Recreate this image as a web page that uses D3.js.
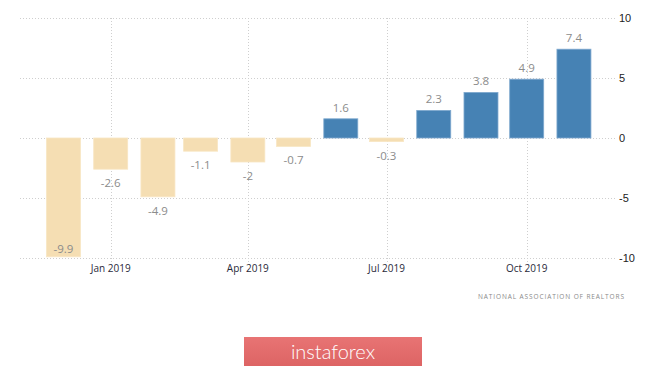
<!DOCTYPE html>
<html><head><meta charset="utf-8">
<script src="https://cdn.jsdelivr.net/npm/d3@7"></script>
<style>
body{margin:0;background:#fff;}
svg{display:block;font-family:"Open Sans",sans-serif;}
</style></head>
<body><svg id="c" width="665" height="368"></svg>
<script>
const months = ["2018-12","2019-01","2019-02","2019-03","2019-04","2019-05","2019-06","2019-07","2019-08","2019-09","2019-10","2019-11"];
const values = [-9.9,-2.6,-4.9,-1.1,-2,-0.7,1.6,-0.3,2.3,3.8,4.9,7.4];
const yTicks = [-10,-5,0,5,10];
const xTickDates = ["2019-01","2019-04","2019-07","2019-10"];
const xTickLabels = ["Jan 2019","Apr 2019","Jul 2019","Oct 2019"];
const sourceText = "NATIONAL ASSOCIATION OF REALTORS";
const logoText = "instaforex";

(function(){
const parse = d3.timeParse("%Y-%m");
const svg = d3.select("#c");
const pL = 20, pR = 616, pT = 18, pB = 258;
const x = d3.scaleTime().domain([parse("2019-01"), parse("2019-10")]).range([110.7, 526.7]);
const y = d3.scaleLinear().domain([-10, 10]).range([pB, pT]);
const barW = 34;

// horizontal grid
svg.append("g").selectAll("line").data(yTicks).join("line")
  .attr("x1", pL).attr("x2", pR)
  .attr("y1", d => y(d)+0.5).attr("y2", d => y(d)+0.5)
  .attr("stroke", "#cfcfcf").attr("stroke-dasharray", "1,2");
// vertical grid
svg.append("g").selectAll("line").data(xTickDates).join("line")
  .attr("x1", d => Math.round(x(parse(d)))+0.5).attr("x2", d => Math.round(x(parse(d)))+0.5)
  .attr("y1", pT).attr("y2", pB+4)
  .attr("stroke", "#cfcfcf").attr("stroke-dasharray", "1,2");

// bars
svg.append("g").selectAll("rect").data(values).join("rect")
  .attr("x", (d,i) => x(parse(months[i])) - barW/2)
  .attr("width", barW)
  .attr("y", d => Math.min(y(d), y(0)))
  .attr("height", d => Math.abs(y(d) - y(0)))
  .attr("fill", d => d >= 0 ? "#4682b4" : "#f5deb3")
  .attr("stroke", d => d >= 0 ? "#7fa9cf" : "#f8e6c4")
  .attr("stroke-width", 0.8);

// value labels
svg.append("g").selectAll("text").data(values).join("text")
  .attr("x", (d,i) => x(parse(months[i])))
  .attr("y", d => d >= 0 ? y(d) - 7 : Math.min(y(d) + 18, pB - 5))
  .attr("text-anchor", "middle")
  .attr("font-size", 11.5)
  .attr("fill", "#8c8c8c")
  .text(d => d);

// y tick labels
svg.append("g").selectAll("text").data(yTicks).join("text")
  .attr("x", 619).attr("y", d => y(d) + 4)
  .attr("font-size", 11).attr("fill", "#222")
  .attr("font-family", "Liberation Sans, Arial, sans-serif")
  .text(d => d);

// x tick labels
svg.append("g").selectAll("text").data(xTickDates).join("text")
  .attr("x", d => x(parse(d))).attr("y", 272)
  .attr("text-anchor", "middle").attr("font-size", 10)
  .attr("fill", "#2a2a3a")
  .text((d,i) => xTickLabels[i]);

// source
svg.append("text").attr("x", 478).attr("y", 299)
  .attr("font-size", 6.5).attr("fill", "#8a8a8a")
  .attr("textLength", 146).attr("lengthAdjust", "spacing")
  .text(sourceText);

// logo
const grad = svg.append("defs").append("linearGradient").attr("id","lg").attr("x1",0).attr("y1",0).attr("x2",0).attr("y2",1);
grad.append("stop").attr("offset","0%").attr("stop-color","#e87474");
grad.append("stop").attr("offset","100%").attr("stop-color","#dd6464");
svg.append("rect").attr("x", 244).attr("y", 337).attr("width", 178).attr("height", 29).attr("fill", "url(#lg)");
svg.append("text").attr("x", 333).attr("y", 359).attr("text-anchor", "middle")
  .attr("font-size", 20).attr("fill", "#fff").attr("font-weight", 300)
  .attr("font-family", "Lato, Open Sans, sans-serif")
  .text(logoText);
})();
</script></body></html>
